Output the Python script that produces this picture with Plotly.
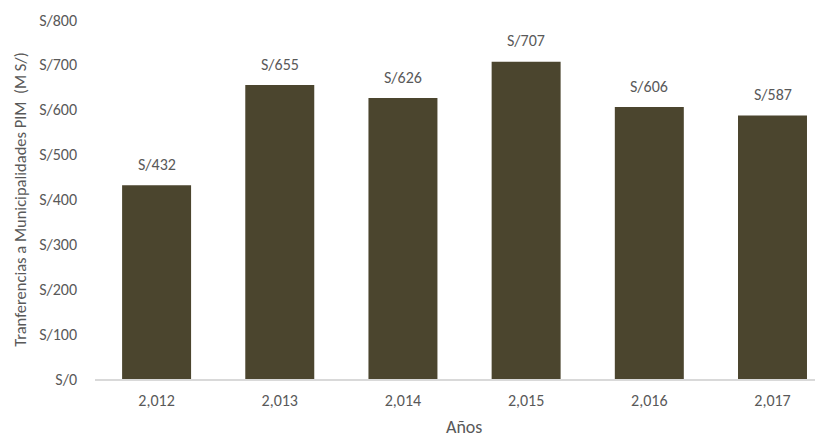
import plotly.graph_objects as go

years = ["2,012", "2,013", "2,014", "2,015", "2,016", "2,017"]
values = [432, 655, 626, 707, 606, 587]
labels = ["S/432", "S/655", "S/626", "S/707", "S/606", "S/587"]
y_ticks = [0, 100, 200, 300, 400, 500, 600, 700, 800]
y_tick_labels = ["S/0", "S/100", "S/200", "S/300", "S/400", "S/500", "S/600", "S/700", "S/800"]

bar_color = "#4b452e"
text_color = "#595959"
font_family = "Carlito, Lato, 'Open Sans', sans-serif"

fig = go.Figure()
fig.add_trace(go.Bar(x=years, y=values, marker_color=bar_color, marker_line_width=0))

for x, v, t in zip(years, values, labels):
    fig.add_annotation(x=x, y=v, text=t, showarrow=False, yshift=21,
                       font=dict(size=16, color=text_color, family=font_family))

fig.add_annotation(xref="paper", yref="paper", x=(464 - 95) / 728, y=0,
                   yshift=-48, yanchor="middle", showarrow=False, text="Años",
                   font=dict(size=18, color=text_color, family=font_family))

fig.update_layout(
    width=815, height=436,
    margin=dict(l=87, r=0, t=12, b=65),
    paper_bgcolor="white", plot_bgcolor="white",
    bargap=0.44,
    showlegend=False,
    font=dict(family=font_family, color=text_color, size=16),
    xaxis=dict(
        type="category", range=[-0.5, 5.41], automargin=False,
        showline=True, linecolor="#d9d9d9", linewidth=1.5,
        ticks="", showgrid=False, ticklabelstandoff=6,
        tickfont=dict(size=16, color=text_color),
    ),
    yaxis=dict(
        range=[0, 800], tickvals=y_ticks, ticktext=y_tick_labels,
        automargin=False,
        showgrid=False, zeroline=False, showline=False, ticks="",
        ticklabelstandoff=17,
        tickfont=dict(size=16, color=text_color),
        title=dict(text="Tranferencias a Municipalidades PIM  (M S/)",
                   font=dict(size=16.5, color=text_color), standoff=8),
    ),
)

fig.write_html("out.html")
